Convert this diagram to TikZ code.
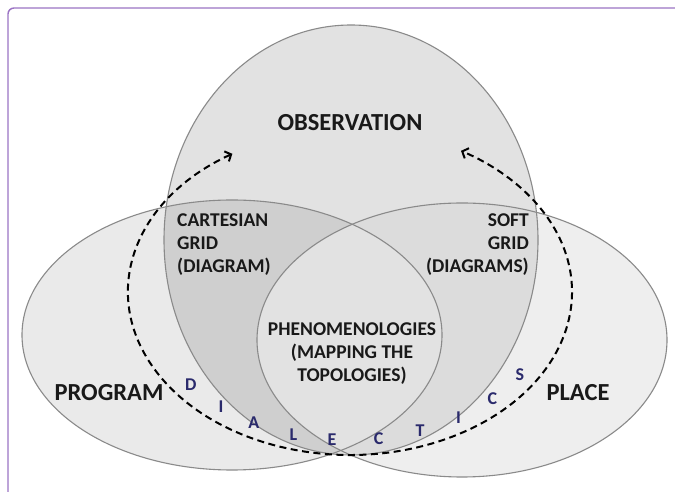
\documentclass[tikz,border=0pt]{standalone}
\usepackage{fontspec}
\setmainfont{Carlito}
\usetikzlibrary{arrows.meta}

\definecolor{frameviolet}{HTML}{9B74C4}
\definecolor{venngray}{HTML}{8A8A8A}
\definecolor{obsfill}{HTML}{E2E2E2}
\definecolor{progfill}{HTML}{EAEAEA}
\definecolor{placefill}{HTML}{EEEEEE}
\definecolor{cartfill}{HTML}{CFCFCF}
\definecolor{softfill}{HTML}{DCDCDC}
\definecolor{lensfill}{HTML}{E2E2E2}
\definecolor{dialnavy}{HTML}{2A2A6C}

\newcommand\ObsShape{(351,252) ellipse [x radius=187pt, y radius=215pt]}
\newcommand\ProgShape{(232,157) ellipse [x radius=210pt, y radius=135pt]}
\newcommand\PlaceShape{(462,152) ellipse [x radius=205pt, y radius=137pt]}

\tikzset{
	zone/.style={draw=venngray, line width=1.1pt},
	tag/.style={font=\fontsize{24.5}{28}\selectfont\bfseries, text=black!90},
	smalltag/.style={font=\fontsize{19.5}{23}\selectfont\bfseries, text=black!90, inner sep=0pt},
	dialletter/.style={font=\fontsize{18}{20}\selectfont\bfseries, text=dialnavy},
	dial/.style={dash pattern=on 7pt off 4.5pt, line width=2pt,
		{Straight Barb[length=5pt,width=11pt]}-{Straight Barb[length=5pt,width=11pt]}}
}

\begin{document}
\begin{tikzpicture}[x=1pt, y=1pt]
	\useasboundingbox (0,0) rectangle (675,492);
	\draw[frameviolet, line width=1.4pt, rounded corners=6pt, fill=white] (8,484) rectangle (700,-20);
	\fill[progfill] \ProgShape;
	\fill[placefill] \PlaceShape;
	\fill[obsfill] \ObsShape;
	\begin{scope}
		\clip \ProgShape;
		\fill[cartfill] \ObsShape;
	\end{scope}
	\begin{scope}
		\clip \PlaceShape;
		\fill[softfill] \ObsShape;
	\end{scope}
	\begin{scope}
		\clip \ProgShape;
		\fill[lensfill] \PlaceShape;
	\end{scope}
	\draw[zone] \ObsShape;
	\draw[zone] \ProgShape;
	\draw[zone] \PlaceShape;

	\node[tag] (obsLabel) at (350,369) {OBSERVATION};
	\node[tag] (progLabel) at (109,99) {PROGRAM};
	\node[tag] (placeLabel) at (578,99) {PLACE};
	\node[smalltag, align=left, anchor=west] (cartLabel) at (177,247) {CARTESIAN\\GRID\\(DIAGRAM)};
	\node[smalltag, align=right, anchor=east] (softLabel) at (529,247) {SOFT\\GRID\\(DIAGRAMS)};
	\node[smalltag, align=center] (phenLabel) at (352,138) {PHENOMENOLOGIES\\(MAPPING THE\\TOPOLOGIES)};

	\coordinate (dialC) at (350,200);
	\path (dialC) ++(122:222pt and 163pt) coordinate (dialStart);
	\draw[dial] (dialStart) arc[start angle=122, end angle=420, x radius=222pt, y radius=163pt];
	\foreach \ch/\ang [count=\k] in {D/219,I/231,A/242,L/254,E/265,C/278,T/290,I/302,C/314,S/326}
		\path (dialC) ++(\ang:205pt and 148pt) node[dialletter] (letter\k) {\ch};
	%	\draw[red] (dialC) circle (2pt);
\end{tikzpicture}
\end{document}
